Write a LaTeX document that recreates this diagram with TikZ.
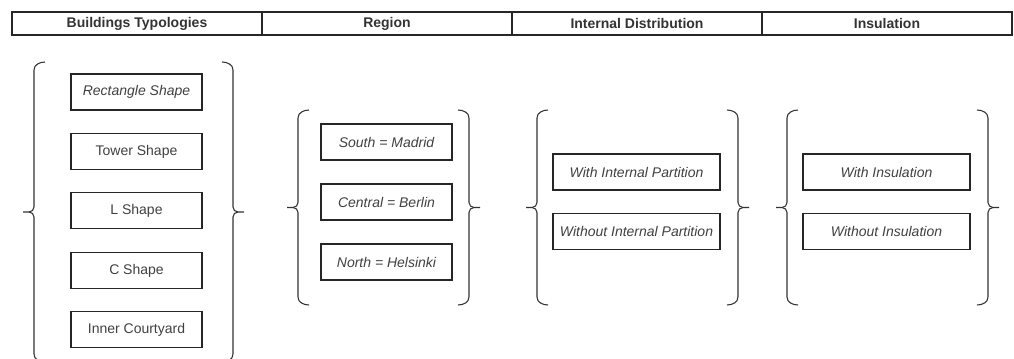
\documentclass[tikz,border=0pt]{standalone}
\usepackage{fontspec}
\setmainfont{Liberation Sans}
\usetikzlibrary{positioning}
\tikzset{
    headcell/.style = {rectangle, draw=black!85, line width=1pt, outer sep=0pt, minimum width=187.5pt, minimum height=17.25pt, inner sep=0pt, text=black!80, font=\fontsize{10.5}{12}\selectfont\bfseries},
    item/.style = {rectangle, draw=black!85, line width=0.8pt, outer sep=0pt, minimum width=98.25pt, minimum height=27pt, inner sep=0pt, text=black!75, font=\fontsize{10.5}{12}\selectfont},
    wideitem/.style = {item, minimum width=125.25pt},
    bracket/.style = {draw=black!80, line width=0.8pt}
}
% curly brackets: x of the vertical stroke, top, bottom
\newcommand{\curlyL}[3]{%
    \draw[bracket] (#1+11,#2) to[out=180,in=90] (#1,#2+8) -- (#1,{(#2+#3)/2-5}) to[out=-90,in=0] (#1-5,{(#2+#3)/2}) -- (#1-11,{(#2+#3)/2});
    \draw[bracket] (#1-5,{(#2+#3)/2}) to[out=0,in=90] (#1,{(#2+#3)/2+5}) -- (#1,#3-8) to[out=-90,in=180] (#1+11,#3);
}
\newcommand{\curlyR}[3]{%
    \draw[bracket] (#1-11,#2) to[out=0,in=90] (#1,#2+8) -- (#1,{(#2+#3)/2-5}) to[out=-90,in=180] (#1+5,{(#2+#3)/2}) -- (#1+11,{(#2+#3)/2});
    \draw[bracket] (#1+5,{(#2+#3)/2}) to[out=180,in=90] (#1,{(#2+#3)/2+5}) -- (#1,#3-8) to[out=-90,in=0] (#1-11,#3);
}
\begin{document}
\begin{tikzpicture}
            [x=0.75pt, y=-0.75pt, node distance=17.6pt]
            \useasboundingbox (0,0) rectangle (1014,358);

            % header row
            \node [headcell] (typologies) at (137,23.5) {Buildings Typologies};
            \node [headcell, right=0pt of typologies] (region) {Region};
            \node [headcell, right=0pt of region] (distribution) {Internal Distribution};
            \node [headcell, right=0pt of distribution] (insulation) {Insulation};

            % buildings typologies
            \node [item, font=\fontsize{10.5}{12}\selectfont\itshape] (rectangle) at (136.5,92) {Rectangle Shape};
            \node [item, below=of rectangle] (tower) {Tower Shape};
            \node [item, below=of tower] (lshape) {L Shape};
            \node [item, below=of lshape] (cshape) {C Shape};
            \node [item, below=of cshape] (courtyard) {Inner Courtyard};
            \curlyL{34}{62}{362}
            \curlyR{233}{62}{362}

            % region
            \node [item, font=\fontsize{10.5}{12}\selectfont\itshape] (south) at (386.5,142) {South = Madrid};
            \node [item, font=\fontsize{10.5}{12}\selectfont\itshape, below=18pt of south] (central) {Central = Berlin};
            \node [item, font=\fontsize{10.5}{12}\selectfont\itshape, below=18pt of central] (north) {North = Helsinki};
            \curlyL{298}{110}{305}
            \curlyR{469}{110}{305}

            % internal distribution
            \node [wideitem, font=\fontsize{10.5}{12}\selectfont\itshape] (withpart) at (636.5,172) {With Internal Partition};
            \node [wideitem, font=\fontsize{10.5}{12}\selectfont\itshape, below=of withpart] (withoutpart) {Without Internal Partition};
            \curlyL{537}{110}{305}
            \curlyR{738}{110}{305}

            % insulation
            \node [wideitem, font=\fontsize{10.5}{12}\selectfont\itshape] (withins) at (886.5,172) {With Insulation};
            \node [wideitem, font=\fontsize{10.5}{12}\selectfont\itshape, below=of withins] (withoutins) {Without Insulation};
            \curlyL{787}{110}{305}
            \curlyR{988}{110}{305}
        \end{tikzpicture}
\end{document}
